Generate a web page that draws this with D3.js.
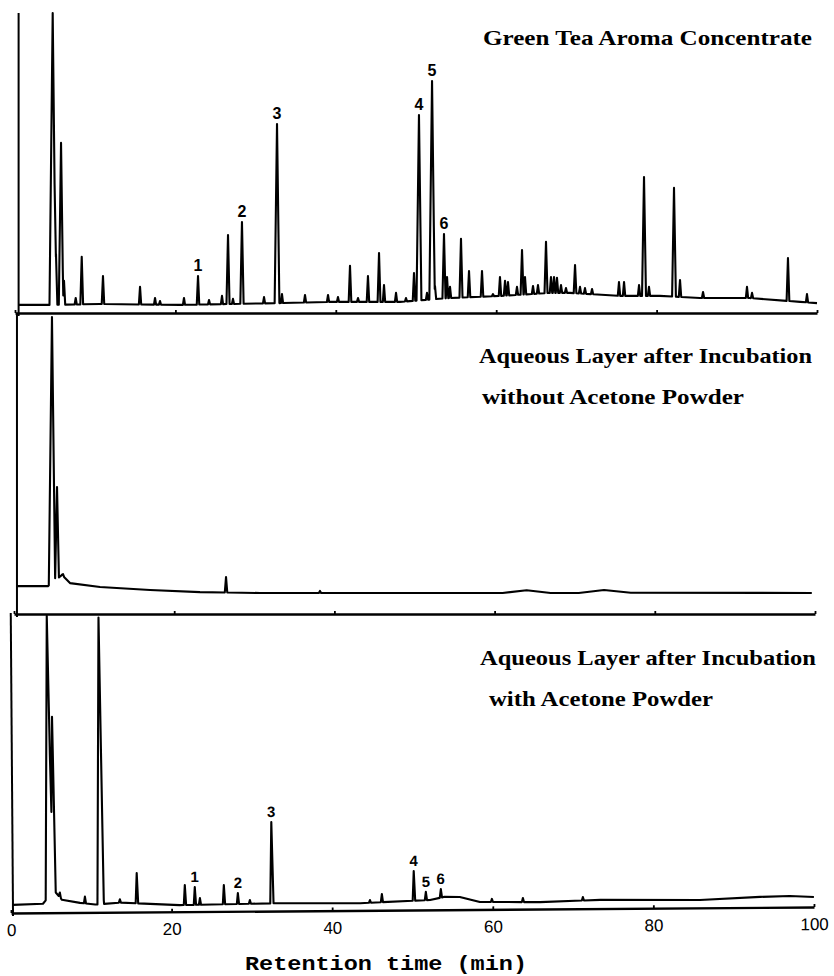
<!DOCTYPE html>
<html><head><meta charset="utf-8">
<script src="https://cdn.jsdelivr.net/npm/d3@7"></script>
<style>body{margin:0;background:#fff} svg{display:block}</style>
</head><body><svg id="chart" width="834" height="976"></svg>
<script>
// ---------- DATA ----------
const xTicks = [0, 20, 40, 60, 80, 100];
const xTitle = "Retention time (min)";

// Panel 1: Green Tea Aroma Concentrate (relative response, 0-100)
const p1Title = ["Green Tea Aroma Concentrate"];
const p1BaseTimes  = [0.45, 4.6, 10.6, 20.6, 26.8, 33.0, 39.3, 48.0, 54.2, 60.5, 66.7, 69.2, 75.4, 80.4, 85.4, 91.6, 97.9, 100];
const p1BaseLevels = [2.7, 2.7, 3.0, 2.7, 3.0, 3.3, 3.7, 3.7, 5.0, 5.7, 6.7, 6.7, 5.7, 5.7, 5.0, 5.0, 3.7, 3.3];
const p1PeakTimes = [4.70, 5.11, 5.74, 6.11, 7.57, 8.32, 10.97, 15.59, 17.46, 18.08,
  21.07, 22.82, 24.19, 25.81, 26.56, 27.18, 28.30, 31.05, 32.67, 33.29,
  36.16, 39.03, 40.27, 41.77, 42.77, 44.01, 45.39, 46.01, 47.51, 48.75,
  49.75, 50.37, 51.37, 52.00, 52.37, 53.49, 53.87, 54.24, 55.61, 56.61,
  58.23, 59.60, 60.47, 61.10, 61.47, 62.59, 63.22, 63.59, 64.59, 65.21,
  66.21, 66.83, 67.21, 67.58, 68.08, 68.70, 69.83, 70.45, 71.07, 71.95,
  75.31, 75.94, 77.81, 78.43, 79.05, 82.17, 82.92, 85.79, 91.27, 91.90,
  96.38, 98.75];
const p1PeakHeights = [100, 19.7, 56.7, 10.7, 5.0, 18.7, 12.3, 8.7, 5.0, 4.0,
  5.0, 12.3, 4.3, 5.7, 26.0, 4.7, 30.3, 5.3, 63.0, 6.3,
  6.0, 6.0, 5.3, 15.7, 5.0, 12.3, 20.0, 9.3, 6.7, 5.0,
  13.3, 66.0, 6.7, 77.3, 9.0, 26.3, 12.0, 8.7, 24.7, 14.0,
  14.0, 6.3, 12.0, 10.7, 10.3, 8.7, 21.0, 12.0, 9.0, 9.3,
  23.7, 12.0, 12.0, 11.7, 9.3, 8.3, 16.0, 8.7, 8.3, 8.0,
  10.3, 10.3, 9.3, 45.3, 8.7, 41.7, 11.0, 7.0, 8.7, 6.7,
  18.3, 6.3];
const p1Labels = ["1", "2", "3", "4", "5", "6"];
const p1LabelTimes = [22.82, 28.30, 32.67, 50.37, 52.00, 53.49];

// Panel 2: Aqueous layer after incubation without acetone powder
const p2Title = ["Aqueous Layer after Incubation", "without Acetone Powder"];
const p2BaseTimes  = [0.37, 4.24, 5.99, 6.99, 10.74, 16.98, 23.22, 30.71, 38.2, 48.19, 56.0, 61.0, 64.0, 67.0, 70.5, 73.66, 77.0, 99.6];
const p2BaseLevels = [9.3, 9.3, 13.0, 10.3, 9.0, 8.0, 7.3, 7.0, 7.0, 7.0, 7.0, 7.0, 7.9, 7.0, 7.0, 8.0, 7.1, 7.0];
const p2PeakTimes   = [4.74, 5.37, 6.12, 26.47, 38.2];
const p2PeakHeights = [99, 42.3, 13.3, 12.3, 7.7];
const p2Labels = [];
const p2LabelTimes = [];

// Panel 3: Aqueous layer after incubation with acetone powder
const p3Title = ["Aqueous Layer after Incubation", "with Acetone Powder"];
const p3BaseTimes  = [0.25, 3.99, 5.35, 6.35, 8.6, 10.5, 13.6, 21.0, 33.5, 43.5, 52.2, 54.0, 55.9, 58.4, 65.9, 73.4, 85.8, 93.3, 97.0, 100];
const p3BaseLevels = [2.7, 3.0, 7.5, 4.3, 3.2, 2.6, 3.2, 2.2, 2.6, 2.4, 3.3, 4.3, 4.2, 2.5, 2.3, 2.9, 2.6, 3.5, 3.7, 3.3];
const p3PeakTimes = [4.73, 4.92, 5.29, 6.10, 9.22, 11.17, 11.46, 13.57, 15.69, 21.67,
  22.91, 23.54, 26.53, 28.27, 29.76, 32.50, 44.71, 46.20, 50.19, 51.68,
  53.55, 59.9, 63.76, 71.23];
const p3PeakHeights = [99, 65.3, 65.3, 6.7, 5.3, 98.3, 7.7, 4.3, 13.0, 8.9,
  8.2, 4.5, 8.8, 6.1, 3.7, 29.7, 3.4, 5.4, 13.0, 6.0,
  6.9, 3.5, 3.7, 3.9];
const p3Labels = ["1", "2", "3", "4", "5", "6"];
const p3LabelTimes = [22.91, 28.27, 32.50, 50.19, 51.68, 53.55];

// ---------- LAYOUT ----------
const layout = [
  {x0: 15, x1: 817, axisY: 313, topY: 13,  rot: 0,     labelSize: 16,
   titles: [[483, 45, 329]]},
  {x0: 14, x1: 815, axisY: 614, topY: 314, rot: 0,     labelSize: 16,
   titles: [[479, 363, 333], [482, 404, 262]]},
  {x0: 11, x1: 814, axisY: 913, topY: 613, rot: -0.43, labelSize: 15,
   titles: [[480, 665, 336], [489, 706, 224]]}
];
const panels = [
  {title: p1Title, baseT: p1BaseTimes, baseV: p1BaseLevels, pkT: p1PeakTimes, pkH: p1PeakHeights, labs: p1Labels, labT: p1LabelTimes},
  {title: p2Title, baseT: p2BaseTimes, baseV: p2BaseLevels, pkT: p2PeakTimes, pkH: p2PeakHeights, labs: p2Labels, labT: p2LabelTimes},
  {title: p3Title, baseT: p3BaseTimes, baseV: p3BaseLevels, pkT: p3PeakTimes, pkH: p3PeakHeights, labs: p3Labels, labT: p3LabelTimes}
];

// Build the trace vertices: baseline knots + narrow peak triangles (max envelope)
function buildTrace(p) {
  const base = d3.scaleLinear().domain(p.baseT).range(p.baseV).clamp(true);
  const peaks = p.pkT.map((t, i) => ({t, h: p.pkH[i], w: 0.12 + 0.0028 * p.pkH[i]}));
  const t0 = p.baseT[0], t1 = p.baseT[p.baseT.length - 1];
  const ts = new Set(p.baseT);
  peaks.forEach(k => { ts.add(k.t - k.w); ts.add(k.t); ts.add(k.t + k.w); });
  return Array.from(ts).filter(t => t >= t0 && t <= t1).sort((a, b) => a - b).map(t => {
    let v = base(t);
    peaks.forEach(k => {
      const d = Math.abs(t - k.t);
      if (d < k.w) v = Math.max(v, base(t) + (k.h - base(k.t)) * (1 - d / k.w));
    });
    return [t, v];
  });
}

const svg = d3.select("#chart");
svg.append("rect").attr("width", 834).attr("height", 976).attr("fill", "#fff");

panels.forEach((p, i) => {
  const L = layout[i];
  const x = d3.scaleLinear().domain([0, 100]).range([L.x0, L.x1]);
  const y = d3.scaleLinear().domain([0, 100]).range([L.axisY, L.topY]);
  const g = svg.append("g").attr("transform", `rotate(${L.rot},${L.x0},${L.axisY})`);

  // time axis along bottom of panel, ticks pointing up
  const axis = d3.axisBottom(x).tickValues(xTicks).tickSize(-3).tickSizeOuter(0)
    .tickPadding(11).tickFormat(i === 2 ? d3.format("d") : () => "");
  const ag = g.append("g").attr("transform", `translate(0,${L.axisY})`).call(axis);
  ag.select(".domain").attr("stroke", "#000").attr("stroke-width", 2.4);
  ag.selectAll(".tick line").attr("stroke", "#000").attr("stroke-width", 1.8);
  ag.selectAll(".tick text").attr("fill", "#000")
    .style("font-family", "'Liberation Sans', Arial, sans-serif").style("font-size", "17px");

  // recorder start line
  g.append("line")
    .attr("x1", x(p.baseT[0])).attr("x2", x(p.baseT[0]))
    .attr("y1", y(100)).attr("y2", y(-1))
    .attr("stroke", "#000").attr("stroke-width", 2);

  // chromatogram trace
  const pts = buildTrace(p);
  g.append("path").datum(pts)
    .attr("d", d3.line().x(d => x(d[0])).y(d => y(d[1])))
    .attr("fill", "none").attr("stroke", "#000")
    .attr("stroke-width", 2.1).attr("stroke-linejoin", "round");

  // peak number labels
  p.labs.forEach((lab, j) => {
    const t = p.labT[j];
    const k = p.pkT.reduce((best, v, idx) => Math.abs(v - t) < Math.abs(p.pkT[best] - t) ? idx : best, 0);
    g.append("text").text(lab)
      .attr("x", x(t)).attr("y", y(p.pkH[k]) - 5)
      .attr("text-anchor", "middle")
      .style("font-family", "'Liberation Sans', Arial, sans-serif")
      .style("font-weight", "bold").style("font-size", L.labelSize + "px");
  });

  // panel titles
  p.title.forEach((line, j) => {
    const [tx, ty, tl] = L.titles[j];
    svg.append("text").text(line)
      .attr("x", tx).attr("y", ty)
      .attr("textLength", tl).attr("lengthAdjust", "spacingAndGlyphs")
      .style("font-family", "'Liberation Serif', 'Times New Roman', serif")
      .style("font-weight", "bold").style("font-size", "22px");
  });
});

svg.append("text").text(xTitle)
  .attr("x", 245).attr("y", 970)
  .attr("textLength", 282).attr("lengthAdjust", "spacingAndGlyphs")
  .style("font-family", "'Liberation Mono', 'Courier New', monospace")
  .style("font-weight", "bold").style("font-size", "20px");
</script>
</body></html>
